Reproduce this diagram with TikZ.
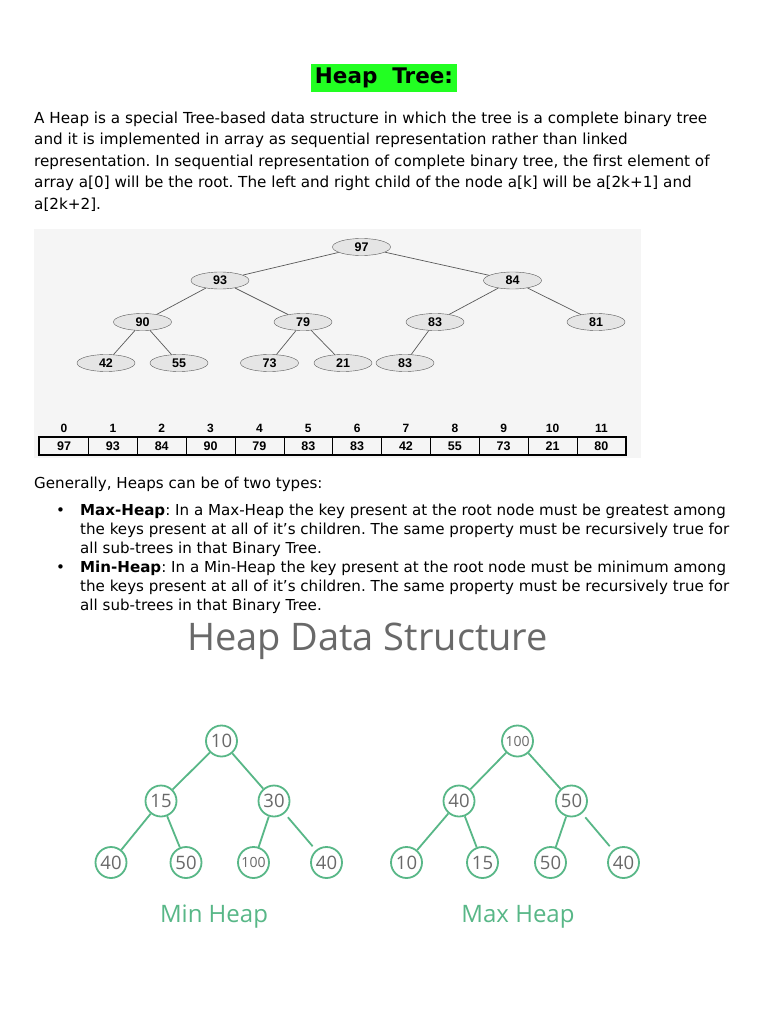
\documentclass[tikz,border=0pt]{standalone}
\usepackage{fontspec}
\setmainfont{DejaVu Sans}
\newfontfamily\arialfont{Liberation Sans}
\newfontfamily\opensans{Open Sans}
\usetikzlibrary{positioning,shapes.geometric}
\definecolor{heapgreen}{RGB}{88,183,135}
\definecolor{titlegreen}{RGB}{34,255,34}
\definecolor{labelgray}{RGB}{105,105,105}
\frenchspacing

\begin{document}
\begin{tikzpicture}[x=1pt,y=-1pt,
    body/.style={anchor=base west, inner sep=0pt, font=\fontsize{15.2}{15}\selectfont},
    listtext/.style={anchor=base west, inner sep=0pt, font=\fontsize{15.1}{15}\selectfont},
    enode/.style={draw=black!65, fill=black!10, ellipse, minimum width=58pt, minimum height=17pt,
      inner sep=0pt, font=\arialfont\bfseries\fontsize{12.5}{12.5}\selectfont},
    eedge/.style={draw=black!65, line width=0.7pt},
    cell/.style={draw, line width=0.7pt, minimum width=48.85pt, minimum height=16.6pt, inner sep=0pt,
      font=\arialfont\bfseries\fontsize{12.5}{12.5}\selectfont},
    idx/.style={inner sep=0pt, font=\arialfont\bfseries\fontsize{12}{12}\selectfont},
    cnode/.style={draw=heapgreen, line width=1.8pt, circle, minimum size=31pt, inner sep=0pt,
      text=labelgray, font=\opensans\fontsize{18.5}{18.5}\selectfont},
    small/.style={font=\opensans\fontsize{14}{14}\selectfont},
    cedge/.style={draw=heapgreen, line width=1.8pt, shorten >=5pt, shorten <=5pt},
  ]
  \useasboundingbox[fill=white] (0,0) rectangle (768,1024);

  % title and text
  \node[fill=titlegreen, minimum width=146pt, minimum height=28pt, inner sep=0pt,
    font=\bfseries\fontsize{21.5}{21.5}\selectfont] (title) at (384,78) {Heap\ \ Tree:};
  \node[body] (p1) at (34,123.5) {A Heap is a special Tree-based data structure in which the tree is a complete binary tree};
  \node[body] (p2) at (34,145) {and it is implemented in array as sequential representation rather than linked};
  \node[body] (p3) at (34,166.5) {representation. In sequential representation of complete binary tree, the first element of};
  \node[body] (p4) at (34,188) {array a[0] will be the root. The left and right child of the node a[k] will be a[2k+1] and};
  \node[body] (p5) at (34,209.5) {a[2k+2].};

  % tree picture
  \fill[black!4] (34,229) rectangle (641,458);
  \node[enode] (A) at (361.5,247) {97};
  \node[enode] (B) at (220,280.5) {93};
  \node[enode] (C) at (512.5,280.5) {84};
  \node[enode] (D) at (142.5,322) {90};
  \node[enode] (E) at (303,322) {79};
  \node[enode] (F) at (435,322) {83};
  \node[enode] (G) at (596,322) {81};
  \node[enode] (H) at (106,363) {42};
  \node[enode] (I) at (179,363) {55};
  \node[enode] (J) at (269.5,363) {73};
  \node[enode] (K) at (343,363) {21};
  \node[enode] (L) at (405,363) {83};
  \draw[eedge] (A)--(B) (A)--(C);
  \draw[eedge] (B)--(D) (B)--(E) (C)--(F) (C)--(G);
  \draw[eedge] (D)--(H) (D)--(I) (E)--(J) (E)--(K) (F)--(L);

  % array
  \foreach \v [count=\i from 0] in {97,93,84,90,79,83,83,42,55,73,21,80} {
    \node[cell] (c\i) at ({64.03+48.85*\i},446) {\v};
    \node[idx, above=4.5pt of c\i] (k\i) {\i};
  }
  \draw[line width=2pt] (c0.north west) rectangle (c11.south east);

  % list
  \node[listtext] (gen) at (34,488.5) {Generally, Heaps can be of two types:};
  \node[listtext] (b1) at (56,515.5) {\textbullet};
  \node[listtext] (m1) at (80,515.5) {\textbf{Max-Heap}: In a Max-Heap the key present at the root node must be greatest among};
  \node[listtext] (m2) at (80,534.5) {the keys present at all of it’s children. The same property must be recursively true for};
  \node[listtext] (m3) at (80,553.5) {all sub-trees in that Binary Tree.};
  \node[listtext] (b2) at (56,572.5) {\textbullet};
  \node[listtext] (n1) at (80,572.5) {\textbf{Min-Heap}: In a Min-Heap the key present at the root node must be minimum among};
  \node[listtext] (n2) at (80,591.5) {the keys present at all of it’s children. The same property must be recursively true for};
  \node[listtext] (n3) at (80,610.5) {all sub-trees in that Binary Tree.};

  % heap data structure
  \node[anchor=base, inner sep=0pt, text=labelgray, font=\opensans\fontsize{38}{38}\selectfont]
    (hds) at (367.5,650) {Heap Data Structure};

  % min heap
  \node[cnode] (a) at (221.5,741) {10};
  \node[cnode] (b) at (161,801) {15};
  \node[cnode] (c) at (274,801) {30};
  \node[cnode] (d) at (111,862.5) {40};
  \node[cnode] (e) at (186,862.5) {50};
  \node[cnode, small] (f) at (253.5,862.5) {100};
  \node[cnode] (g) at (326.5,862.5) {40};
  \draw[cedge] (a)--(b) (a)--(c) (b)--(d) (b)--(e) (c)--(f) (c)--(g);
  \node[anchor=base, inner sep=0pt, text=heapgreen, font=\opensans\fontsize{24}{24}\selectfont]
    (minlabel) at (214,922.5) {Min Heap};

  % max heap
  \node[cnode, small] (p) at (517.5,741) {100};
  \node[cnode] (q) at (459,801) {40};
  \node[cnode] (r) at (571.5,801) {50};
  \node[cnode] (s) at (406.5,862.5) {10};
  \node[cnode] (t) at (482.5,862.5) {15};
  \node[cnode] (u) at (550.5,862.5) {50};
  \node[cnode] (v) at (623.5,862.5) {40};
  \draw[cedge] (p)--(q) (p)--(r) (q)--(s) (q)--(t) (r)--(u) (r)--(v);
  \node[anchor=base, inner sep=0pt, text=heapgreen, font=\opensans\fontsize{24}{24}\selectfont]
    (maxlabel) at (518,922.5) {Max Heap};
\end{tikzpicture}
\end{document}
